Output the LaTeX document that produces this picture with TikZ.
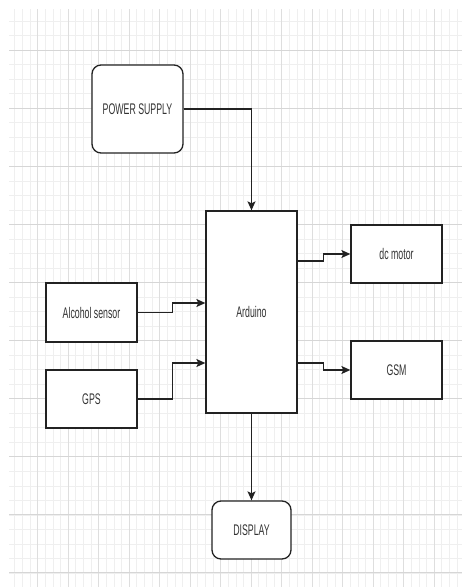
\documentclass[tikz,border=0pt]{standalone}
\usepackage{fontspec}
\setmainfont{Liberation Sans}[FakeStretch=0.57]
\usetikzlibrary{arrows.meta,calc}
\definecolor{inkc}{HTML}{222222}
\definecolor{txtc}{HTML}{333333}
\definecolor{gmin}{HTML}{EFEFEF}
\definecolor{gmaj}{HTML}{D6D6D6}
\begin{document}
\begin{tikzpicture}[x=1pt,y=-1pt,
  every node/.style={font=\fontsize{15.4}{18}\selectfont, text=txtc},
  blk/.style={draw=inkc, line width=1.3pt, fill=white, rectangle, inner sep=0pt},
  rblk/.style={blk, rounded corners=9pt},
  conn/.style={draw=inkc, line width=1.3pt, -{Stealth[length=9pt,width=8pt,inset=2pt]}}]
\fill[white] (0,0) rectangle (462,587);
\useasboundingbox (0,0) rectangle (462,587);
% grid
\begin{scope}
\clip (9,9) rectangle (462,587);
\foreach \k in {0,...,80} {
  \pgfmathsetmacro{\yy}{6.5+14.525*\k}
  \draw[gmin, line width=0.6pt] (0,\yy) -- (462,\yy);
}
\foreach \k in {0,...,70} {
  \pgfmathsetmacro{\xx}{7+7.625*\k}
  \draw[gmin, line width=0.5pt] (\xx,0) -- (\xx,587);
}
\foreach \k in {0,...,16} {
  \pgfmathsetmacro{\xx}{7+30.5*\k}
  \draw[gmaj!80, line width=0.7pt] (\xx,0) -- (\xx,587);
}
\foreach \k in {0,...,10} {
  \pgfmathsetmacro{\yy}{50+58.1*\k}
  \draw[gmaj, line width=0.9pt] (0,\yy) -- (462,\yy);
}
\end{scope}
% nodes
\node[rblk, minimum width=91pt, minimum height=88pt] (ps) at (137.5,109) {POWER SUPPLY};
\node[blk, minimum width=91pt, minimum height=202pt] (ard) at (251.5,312) {Arduino};
\node[blk, minimum width=91pt, minimum height=58pt] (dcm) at (396.5,254) {dc motor};
\node[blk, minimum width=91pt, minimum height=58pt] (gsm) at (396.5,370) {GSM};
\node[blk, minimum width=91pt, minimum height=59pt] (alc) at (91.5,312.5) {Alcohol sensor};
\node[blk, minimum width=91pt, minimum height=58pt] (gps) at (91.5,399) {GPS};
\node[rblk, minimum width=79pt, minimum height=58pt] (disp) at (251.5,530) {DISPLAY};
% connectors
\draw[conn] (ps.east) -| (ard.north);
\draw[conn] (alc.east) -- ++(35,0) |- ([yshift=9pt]ard.west);
\draw[conn] (gps.east) -- ++(35,0) |- ([yshift=-51pt]ard.west);
\draw[conn] ([yshift=51pt]ard.east) -- ++(26,0) |- (dcm.west);
\draw[conn] ([yshift=-51pt]ard.east) -- ++(26,0) |- (gsm.west);
\draw[conn] (ard.south) -- (disp.north);
\end{tikzpicture}
\end{document}
